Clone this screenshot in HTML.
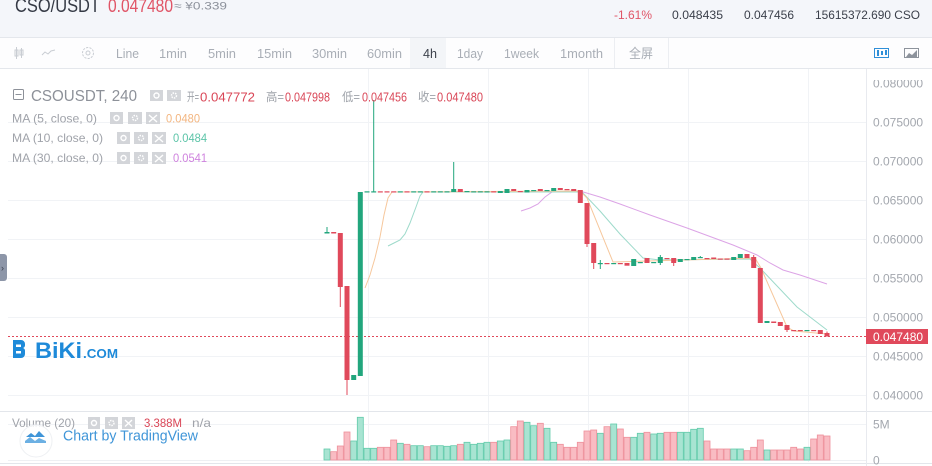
<!DOCTYPE html>
<html><head><meta charset="utf-8">
<style>
html,body{margin:0;padding:0;}
body{width:932px;height:466px;overflow:hidden;position:relative;background:#fff;}
svg{position:absolute;left:0;top:0;}
text{font-family:"Liberation Sans","Noto Sans CJK SC",sans-serif;}
</style></head><body>
<svg width="932" height="466" viewBox="0 0 932 466" xmlns="http://www.w3.org/2000/svg">
<defs><clipPath id="ax"><rect x="866" y="80" width="66" height="386"/></clipPath></defs>
<!-- header -->
<rect x="0" y="0" width="932" height="37" fill="#f4f6fa"/>
<line x1="0" y1="37.5" x2="932" y2="37.5" stroke="#e4e7ec"/>
<text x="15" y="12" font-size="19" fill="#353a45" textLength="85" lengthAdjust="spacingAndGlyphs">CSO/USDT</text>
<text x="108" y="12" font-size="18" fill="#e05567" textLength="65" lengthAdjust="spacingAndGlyphs">0.047480</text>
<text x="174" y="9.5" font-size="11" fill="#8c919b" textLength="53" lengthAdjust="spacingAndGlyphs">≈ ¥0.339</text>
<text x="614" y="19" font-size="12" fill="#e05567" textLength="38" lengthAdjust="spacingAndGlyphs">-1.61%</text>
<text x="672" y="19" font-size="12" fill="#3a3f4a" textLength="51" lengthAdjust="spacingAndGlyphs">0.048435</text>
<text x="744" y="19" font-size="12" fill="#3a3f4a" textLength="50" lengthAdjust="spacingAndGlyphs">0.047456</text>
<text x="815" y="19" font-size="12" fill="#3a3f4a" textLength="105" lengthAdjust="spacingAndGlyphs">15615372.690 CSO</text>
<!-- toolbar -->
<rect x="0" y="38" width="932" height="30" fill="#fdfdfe"/>
<rect x="410" y="38" width="36" height="30" fill="#f3f5f8"/>
<line x1="0" y1="68.5" x2="932" y2="68.5" stroke="#e4e7ec"/>
<line x1="614.5" y1="38" x2="614.5" y2="68" stroke="#eceef2"/>
<line x1="668.5" y1="38" x2="668.5" y2="68" stroke="#eceef2"/>
<g stroke="#c9cdd3" fill="none" stroke-width="1">
<line x1="16.5" y1="47" x2="16.5" y2="59"/><rect x="15" y="50" width="3" height="6"/>
<line x1="21.5" y1="48" x2="21.5" y2="58"/><rect x="20" y="50" width="3" height="5"/>
<polyline points="42,55 45,52 48,54 51,51 55,50"/>
<circle cx="88" cy="53" r="5.5" stroke-dasharray="2.2,1.2"/><circle cx="88" cy="53" r="2"/>
</g>
<g font-size="13" fill="#a9aeb6">
<text x="116" y="58" textLength="23" lengthAdjust="spacingAndGlyphs">Line</text>
<text x="159" y="58" textLength="28" lengthAdjust="spacingAndGlyphs">1min</text>
<text x="208" y="58" textLength="28" lengthAdjust="spacingAndGlyphs">5min</text>
<text x="257" y="58" textLength="35" lengthAdjust="spacingAndGlyphs">15min</text>
<text x="312" y="58" textLength="35" lengthAdjust="spacingAndGlyphs">30min</text>
<text x="367" y="58" textLength="35" lengthAdjust="spacingAndGlyphs">60min</text>
<text x="423" y="58" fill="#3d424c" textLength="14" lengthAdjust="spacingAndGlyphs">4h</text>
<text x="457" y="58" textLength="26" lengthAdjust="spacingAndGlyphs">1day</text>
<text x="504" y="58" textLength="35" lengthAdjust="spacingAndGlyphs">1week</text>
<text x="560" y="58" textLength="43" lengthAdjust="spacingAndGlyphs">1month</text>
<text x="629" y="58" textLength="24" lengthAdjust="spacingAndGlyphs">全屏</text>
</g>
<g>
<rect x="874.5" y="48.5" width="14" height="9" fill="none" stroke="#2f8fd8"/>
<rect x="877" y="50" width="2" height="6" fill="#2f8fd8"/><rect x="881" y="51" width="2" height="4" fill="#2f8fd8"/><rect x="885" y="50" width="2" height="5" fill="#2f8fd8"/>
<rect x="904.5" y="48.5" width="14" height="9" fill="none" stroke="#8d939c"/>
<polygon points="906,57 909,53 912,55 917,50 917,57" fill="#8d939c"/>
</g>
<!-- grid -->
<g stroke="#f1f3f6" stroke-width="1">
<line x1="8" y1="122.5" x2="866" y2="122.5"/><line x1="8" y1="161.5" x2="866" y2="161.5"/>
<line x1="8" y1="200.5" x2="866" y2="200.5"/><line x1="8" y1="239.5" x2="866" y2="239.5"/>
<line x1="8" y1="278.5" x2="866" y2="278.5"/><line x1="8" y1="317.5" x2="866" y2="317.5"/>
<line x1="8" y1="356.5" x2="866" y2="356.5"/><line x1="8" y1="395.5" x2="866" y2="395.5"/>
<line x1="8" y1="424.5" x2="866" y2="424.5"/>
<line x1="368.5" y1="69" x2="368.5" y2="462"/><line x1="488.5" y1="69" x2="488.5" y2="462"/>
<line x1="588.5" y1="69" x2="588.5" y2="462"/><line x1="688.5" y1="69" x2="688.5" y2="462"/>
<line x1="808.5" y1="69" x2="808.5" y2="462"/>
</g>
<line x1="0" y1="411.5" x2="932" y2="411.5" stroke="#e3e6eb"/>
<line x1="8" y1="460.5" x2="866" y2="460.5" stroke="#eef0f3"/>
<line x1="0" y1="463.5" x2="932" y2="463.5" stroke="#e3e6eb"/>
<line x1="866.5" y1="69" x2="866.5" y2="466" stroke="#e8eaef"/>
<!-- left tab -->
<path d="M0,254 h4 a3,3 0 0 1 3,3 v21 a3,3 0 0 1 -3,3 h-4 z" fill="#8d96a8"/>
<text x="1" y="271" font-size="9" fill="#3b4250">›</text>
<!-- volume -->
<g fill="#a8e4d2" stroke="#62cbab" stroke-width="0.8">
<rect x="324" y="449" width="6" height="11"/><rect x="350.7" y="441" width="6" height="19"/><rect x="357.3" y="417.3" width="6" height="42.7"/>
<rect x="364" y="448.3" width="6" height="11.7"/><rect x="370.7" y="448.3" width="6" height="11.7"/><rect x="397.3" y="443.3" width="6" height="16.7"/>
<rect x="410.7" y="445.7" width="6" height="14.3"/><rect x="417.3" y="445.7" width="6" height="14.3"/><rect x="430.7" y="445.7" width="6" height="14.3"/>
<rect x="437.3" y="445.7" width="6" height="14.3"/><rect x="444" y="446.3" width="6" height="13.7"/><rect x="450.7" y="445.7" width="6" height="14.3"/>
<rect x="464" y="442.3" width="6" height="17.7"/><rect x="470.7" y="444.3" width="6" height="15.7"/><rect x="477.3" y="443.3" width="6" height="16.7"/>
<rect x="484" y="442.3" width="6" height="17.7"/><rect x="497.3" y="441" width="6" height="19"/><rect x="504" y="440" width="6" height="20"/>
<rect x="524" y="422.3" width="6" height="37.7"/><rect x="530.7" y="425.7" width="6" height="34.3"/><rect x="544" y="428.3" width="6" height="31.7"/>
<rect x="550.7" y="442.3" width="6" height="17.7"/><rect x="597.3" y="433.3" width="6" height="26.7"/><rect x="610.7" y="424" width="6" height="36"/>
<rect x="630.7" y="437.3" width="6" height="22.7"/><rect x="637.3" y="433.3" width="6" height="26.7"/><rect x="650.7" y="434" width="6" height="26"/>
<rect x="657.3" y="433.3" width="6" height="26.7"/><rect x="677.3" y="432.3" width="6" height="27.7"/><rect x="684" y="432.3" width="6" height="27.7"/>
<rect x="690.7" y="429.3" width="6" height="30.7"/><rect x="697.3" y="428.3" width="6" height="31.7"/><rect x="730.7" y="449" width="6" height="11"/>
<rect x="737.3" y="449" width="6" height="11"/><rect x="764" y="450" width="6" height="10"/><rect x="804" y="447.3" width="6" height="12.7"/>
</g>
<g fill="#f9bcc3" stroke="#ee909b" stroke-width="0.8">
<rect x="330.7" y="451.7" width="6" height="8.3"/><rect x="337.3" y="446" width="6" height="14"/><rect x="344" y="432" width="6" height="28"/>
<rect x="377.3" y="447.3" width="6" height="12.7"/><rect x="384" y="447.3" width="6" height="12.7"/><rect x="390.7" y="440" width="6" height="20"/>
<rect x="404" y="444.3" width="6" height="15.7"/><rect x="424" y="446.7" width="6" height="13.3"/><rect x="457.3" y="444.3" width="6" height="15.7"/>
<rect x="490.7" y="442.3" width="6" height="17.7"/><rect x="510.7" y="426.7" width="6" height="33.3"/><rect x="517.3" y="421" width="6" height="39"/>
<rect x="537.3" y="423.3" width="6" height="36.7"/><rect x="557.3" y="444.3" width="6" height="15.7"/><rect x="564" y="447.3" width="6" height="12.7"/>
<rect x="570.7" y="447.3" width="6" height="12.7"/><rect x="577.3" y="442.3" width="6" height="17.7"/><rect x="584" y="431" width="6" height="29"/>
<rect x="590.7" y="430" width="6" height="30"/><rect x="604" y="426.7" width="6" height="33.3"/><rect x="617.3" y="429" width="6" height="31"/>
<rect x="624" y="437.3" width="6" height="22.7"/><rect x="644" y="432.3" width="6" height="27.7"/><rect x="664" y="432.3" width="6" height="27.7"/>
<rect x="670.7" y="432.3" width="6" height="27.7"/><rect x="704" y="441" width="6" height="19"/><rect x="710.7" y="449" width="6" height="11"/>
<rect x="717.3" y="449" width="6" height="11"/><rect x="724" y="449" width="6" height="11"/><rect x="744" y="450.7" width="6" height="9.3"/>
<rect x="750.7" y="447.3" width="6" height="12.7"/><rect x="757.3" y="440" width="6" height="20"/><rect x="770.7" y="450" width="6" height="10"/>
<rect x="777.3" y="450" width="6" height="10"/><rect x="784" y="450" width="6" height="10"/><rect x="790.7" y="447.3" width="6" height="12.7"/>
<rect x="797.3" y="449" width="6" height="11"/><rect x="810.7" y="439" width="6" height="21"/><rect x="817.3" y="435" width="6" height="25"/>
<rect x="824" y="436" width="6" height="24"/>
</g>
<!-- current price line -->
<line x1="8" y1="336.5" x2="866" y2="336.5" stroke="#e0495b" stroke-dasharray="2,2"/>
<!-- MA lines -->
<g fill="none" stroke-width="1">
<polyline stroke="#dca4e6" points="521,211 530,208 538,204 545,197 552,192 580,191 600,197 620,204 650,215 687,228 733,245 757,255 770,263 783,270 800,275 827,284"/>
<polyline stroke="#9edacb" points="388,246 394,243 400,240 405,234 410,223 416,207 420,196 423,192 582,192 600,211 620,234 643,258 660,260 750,259 760,268 797,307 827,330"/>
<polyline stroke="#f6c79c" points="365,288 370,275 375,258 380,237 384,215 388,198 392,192 580,191 587,198 613,262 755,258 761,268 787,327 794,331 827,334"/>
</g>
<!-- candles green -->
<g fill="#22a67d">
<rect x="324.5" y="232" width="5" height="1.5"/><rect x="326.5" y="227" width="1" height="6"/>
<rect x="351.2" y="375" width="5" height="5"/>
<rect x="357.8" y="192" width="5" height="184"/>
<rect x="364.5" y="191.3" width="5" height="1.2"/>
<rect x="371.2" y="191.3" width="5" height="1.2"/><rect x="373.2" y="100" width="1" height="92"/>
<rect x="397.8" y="191.3" width="5" height="1.2"/><rect x="411.2" y="191.3" width="5" height="1.2"/><rect x="417.8" y="191.3" width="5" height="1.2"/>
<rect x="431.2" y="191.3" width="5" height="1.2"/><rect x="437.8" y="191.3" width="5" height="1.2"/><rect x="444.5" y="191.3" width="5" height="1.2"/>
<rect x="451.2" y="189" width="5" height="3"/><rect x="453.2" y="162" width="1" height="30"/>
<rect x="464.5" y="191" width="5" height="1.2"/><rect x="471.2" y="191.3" width="5" height="1.2"/><rect x="477.8" y="191.3" width="5" height="1.2"/>
<rect x="484.5" y="191.3" width="5" height="1.2"/><rect x="497.8" y="191" width="5" height="2"/><rect x="504.5" y="189" width="5" height="4"/>
<rect x="524.5" y="190" width="5" height="2.5"/><rect x="531.2" y="190" width="5" height="1.2"/><rect x="544.5" y="190" width="5" height="1.2"/>
<rect x="551.2" y="188" width="5" height="3"/>
<rect x="597.8" y="263" width="5" height="1.2"/><rect x="599.8" y="260" width="1" height="9"/>
<rect x="611.2" y="263" width="5" height="1.2"/><rect x="631.2" y="259" width="5" height="7"/><rect x="637.8" y="262" width="5" height="1.2"/>
<rect x="651.2" y="262" width="5" height="1.2"/>
<rect x="657.8" y="257" width="5" height="6"/><rect x="659.8" y="255" width="1" height="10"/>
<rect x="677.8" y="259" width="5" height="3"/><rect x="684.5" y="259" width="5" height="1.2"/><rect x="691.2" y="257" width="5" height="3"/>
<rect x="697.8" y="257" width="5" height="1.2"/><rect x="699.8" y="256" width="1" height="2"/>
<rect x="731.2" y="257" width="5" height="3"/><rect x="737.8" y="254" width="5" height="4"/>
<rect x="764.5" y="321" width="5" height="2"/><rect x="804.5" y="330" width="5" height="1.2"/>
</g>
<!-- candles red -->
<g fill="#e0495b">
<rect x="331.2" y="232" width="5" height="1.5"/>
<rect x="337.8" y="233" width="5" height="54"/><rect x="339.8" y="233" width="1" height="74"/>
<rect x="344.5" y="286" width="5" height="94"/><rect x="346.5" y="286" width="1" height="109"/>
<rect x="377.8" y="191.3" width="5" height="1.2"/><rect x="384.5" y="191.3" width="5" height="1.2"/><rect x="391.2" y="191.3" width="5" height="1.2"/>
<rect x="404.5" y="191.3" width="5" height="1.2"/><rect x="424.5" y="191.3" width="5" height="1.2"/><rect x="457.8" y="189" width="5" height="3"/>
<rect x="491.2" y="191.3" width="5" height="1.2"/><rect x="511.2" y="189" width="5" height="2"/><rect x="517.8" y="191" width="5" height="1.2"/>
<rect x="537.8" y="189" width="5" height="2"/><rect x="557.8" y="188" width="5" height="2"/><rect x="564.5" y="189" width="5" height="1.2"/>
<rect x="571.2" y="189" width="5" height="2"/><rect x="577.8" y="190" width="5" height="13"/>
<rect x="584.5" y="203" width="5" height="41"/><rect x="586.5" y="203" width="1" height="44"/>
<rect x="591.2" y="243" width="5" height="20"/><rect x="593.2" y="243" width="1" height="26"/>
<rect x="604.5" y="263" width="5" height="1.2"/><rect x="617.8" y="263" width="5" height="1.2"/><rect x="624.5" y="263" width="5" height="2.7"/>
<rect x="644.5" y="258" width="5" height="5"/><rect x="664.5" y="258" width="5" height="1.2"/>
<rect x="671.2" y="258" width="5" height="5"/><rect x="673.2" y="258" width="1" height="8"/>
<rect x="704.5" y="258" width="5" height="1.2"/><rect x="711.2" y="257.5" width="5" height="1.5"/><rect x="717.8" y="258.5" width="5" height="1.2"/>
<rect x="724.5" y="258.5" width="5" height="1.2"/><rect x="744.5" y="254" width="5" height="4"/>
<rect x="751.2" y="257" width="5" height="11"/><rect x="753.2" y="255" width="1" height="13"/>
<rect x="757.8" y="268" width="5" height="55"/>
<rect x="771.2" y="321.5" width="5" height="1.5"/><rect x="777.8" y="322" width="5" height="4"/>
<rect x="784.5" y="325" width="5" height="5"/><rect x="786.5" y="325" width="1" height="7"/>
<rect x="791.2" y="330" width="5" height="1.2"/><rect x="797.8" y="330" width="5" height="1.2"/><rect x="811.2" y="330" width="5" height="1.2"/>
<rect x="817.8" y="330" width="5" height="4"/>
<rect x="824.5" y="333" width="5" height="3.5"/><rect x="826.5" y="331.5" width="1" height="5"/>
</g>
<!-- axis labels -->
<g font-size="12" fill="#a3a7ae" clip-path="url(#ax)">
<text x="873" y="87.3">0.080000</text>
<text x="873" y="126.3">0.075000</text>
<text x="873" y="165.3">0.070000</text>
<text x="873" y="204.3">0.065000</text>
<text x="873" y="243.3">0.060000</text>
<text x="873" y="282.3">0.055000</text>
<text x="873" y="321.3">0.050000</text>
<text x="873" y="360.3">0.045000</text>
<text x="873" y="399.3">0.040000</text>
<text x="873" y="428.3">5M</text>
<text x="873" y="464.3">0</text>
</g>
<rect x="866" y="329" width="62" height="15" fill="#e0495b"/>
<text x="873" y="340.8" font-size="12" fill="#ffffff">0.047480</text>
<!-- legend -->
<rect x="13.5" y="89.5" width="10" height="10" fill="none" stroke="#8d9199" rx="1"/>
<line x1="15.5" y1="94.5" x2="21.5" y2="94.5" stroke="#8d9199"/>
<text x="31" y="101" font-size="16" fill="#8d9199" textLength="106" lengthAdjust="spacingAndGlyphs">CSOUSDT, 240</text>
<g fill="#d3d5d9">
<rect x="150" y="90" width="13" height="11"/><rect x="167" y="90" width="14" height="11"/>
<rect x="110" y="112" width="13" height="12"/><rect x="128" y="112" width="14" height="12"/><rect x="146" y="112" width="14" height="12"/>
<rect x="117" y="132" width="13" height="12"/><rect x="134" y="132" width="14" height="12"/><rect x="152" y="132" width="14" height="12"/>
<rect x="117" y="152" width="13" height="12"/><rect x="134" y="152" width="14" height="12"/><rect x="152" y="152" width="14" height="12"/>
<rect x="88" y="417" width="12" height="12"/><rect x="105" y="417" width="13" height="12"/><rect x="122" y="417" width="13" height="12"/>
</g>
<g fill="none" stroke="#ffffff" stroke-width="1.4">
<circle cx="156.5" cy="95.5" r="2.5"/><circle cx="174" cy="95.5" r="2.5" stroke-dasharray="1.5,1"/>
<circle cx="116.5" cy="118" r="2.5"/><circle cx="135" cy="118" r="2.5" stroke-dasharray="1.5,1"/><path d="M149,115 l8,7 M157,115 l-8,7"/>
<circle cx="123.5" cy="138" r="2.5"/><circle cx="141" cy="138" r="2.5" stroke-dasharray="1.5,1"/><path d="M155,135 l8,7 M163,135 l-8,7"/>
<circle cx="123.5" cy="158" r="2.5"/><circle cx="141" cy="158" r="2.5" stroke-dasharray="1.5,1"/><path d="M155,155 l8,7 M163,155 l-8,7"/>
<circle cx="94" cy="423" r="2.5"/><circle cx="111.5" cy="423" r="2.5" stroke-dasharray="1.5,1"/><path d="M125,420 l7,6.5 M132,420 l-7,6.5"/>
</g>
<g font-size="12" fill="#9ea2a9">
<text x="187" y="101" textLength="12" lengthAdjust="spacingAndGlyphs">开=</text>
<text x="266" y="101" textLength="18" lengthAdjust="spacingAndGlyphs">高=</text>
<text x="342" y="101" textLength="18" lengthAdjust="spacingAndGlyphs">低=</text>
<text x="418" y="101" textLength="18" lengthAdjust="spacingAndGlyphs">收=</text>
</g>
<g font-size="13" fill="#d94556">
<text x="200" y="101.7" textLength="55" lengthAdjust="spacingAndGlyphs">0.047772</text>
<text x="285" y="101.7" textLength="45" lengthAdjust="spacingAndGlyphs">0.047998</text>
<text x="362" y="101.7" textLength="45" lengthAdjust="spacingAndGlyphs">0.047456</text>
<text x="437" y="101.7" textLength="46" lengthAdjust="spacingAndGlyphs">0.047480</text>
</g>
<g font-size="12" fill="#a0a3aa">
<text x="12" y="122.5" textLength="85" lengthAdjust="spacingAndGlyphs">MA (5, close, 0)</text>
<text x="12" y="142" textLength="91" lengthAdjust="spacingAndGlyphs">MA (10, close, 0)</text>
<text x="12" y="162" textLength="91" lengthAdjust="spacingAndGlyphs">MA (30, close, 0)</text>
</g>
<text x="166" y="122.5" font-size="12" fill="#f3b57f" textLength="34" lengthAdjust="spacingAndGlyphs">0.0480</text>
<text x="173" y="142" font-size="12" fill="#5cc4a8" textLength="34" lengthAdjust="spacingAndGlyphs">0.0484</text>
<text x="173" y="162" font-size="12" fill="#cf82de" textLength="34" lengthAdjust="spacingAndGlyphs">0.0541</text>
<!-- logo -->
<path d="M13,340 h8 a4,4 0 0 1 4,4 v1.5 a3,3 0 0 1 -2,2.5 a3,3 0 0 1 2,2.5 v3.5 a4,4 0 0 1 -4,4 h-8 z" fill="#1e8ad9"/>
<rect x="16" y="344.5" width="5" height="2.5" fill="#ffffff"/><rect x="16" y="351" width="5" height="2.5" fill="#ffffff"/>
<text x="35" y="358" font-size="22" font-weight="bold" fill="#1e8ad9" textLength="47" lengthAdjust="spacingAndGlyphs">BiKi</text>
<text x="83" y="358" font-size="13" font-weight="bold" fill="#1e8ad9" textLength="35" lengthAdjust="spacingAndGlyphs">.COM</text>
<!-- volume legend -->
<text x="12" y="427" font-size="12" fill="#a0a3aa" textLength="63" lengthAdjust="spacingAndGlyphs">Volume (20)</text>
<text x="144" y="427" font-size="12" fill="#d94556" textLength="38" lengthAdjust="spacingAndGlyphs">3.388M</text>
<text x="192" y="427" font-size="12" fill="#a0a3aa" textLength="19" lengthAdjust="spacingAndGlyphs">n/a</text>
<circle cx="36" cy="441" r="16" fill="#ffffff" fill-opacity="0.85" stroke="#eef0f3"/>
<path d="M26,437 l5,-4 l4,3 l4,-5 l6,6 z" fill="#3f95d8"/>
<path d="M25,441 l5,-4 l5,4 l4,-3 l7,3 v2 h-21 z" fill="#6cb0e3"/>
<text x="63" y="440.5" font-size="15" fill="#3f95d8" textLength="135" lengthAdjust="spacingAndGlyphs">Chart by TradingView</text>
</svg>
</body></html>
